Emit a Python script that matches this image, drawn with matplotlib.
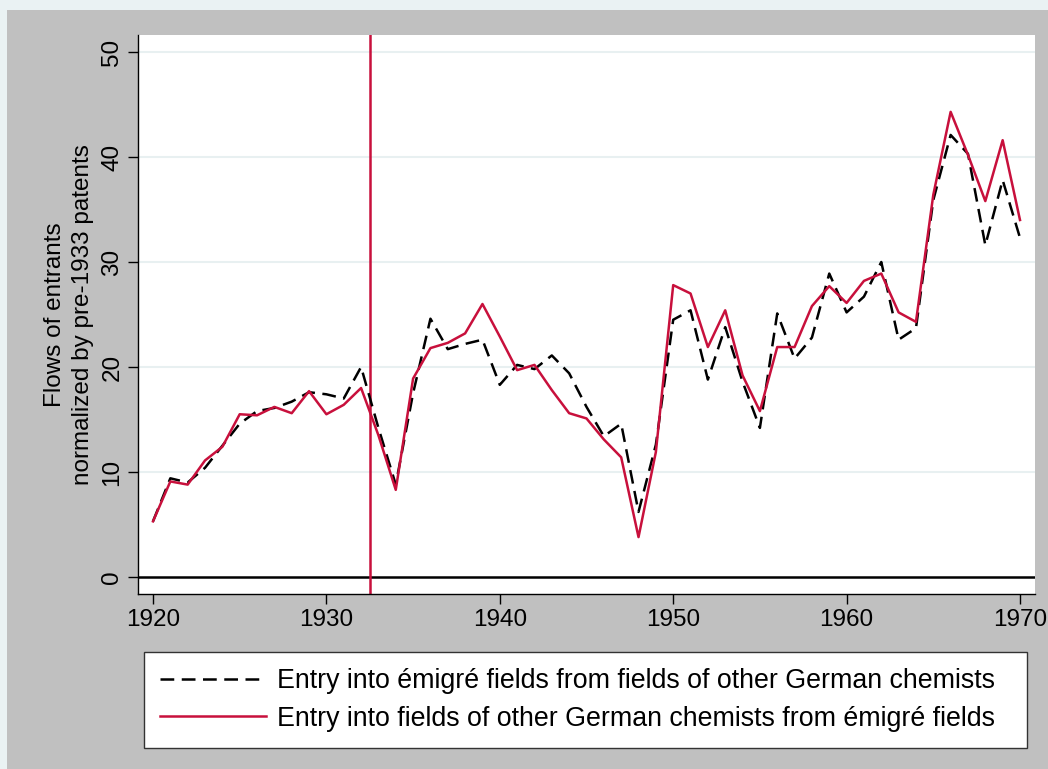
import matplotlib
matplotlib.use("Agg")
import matplotlib.pyplot as plt
from matplotlib.patches import Rectangle

years = list(range(1920, 1971))

# Entry into emigre fields from fields of other German chemists (dashed black)
emigre_entry = [
    5.3, 9.4, 9.0, 10.4, 12.5, 14.6, 15.8, 16.1, 16.7, 17.6,
    17.4, 17.0, 20.0, 14.2, 8.8, 17.5, 24.6, 21.7, 22.2, 22.6,
    18.3, 20.2, 19.8, 21.1, 19.4, 16.2, 13.4, 14.6, 6.2, 12.6,
    24.5, 25.4, 18.8, 23.8, 18.6, 14.2, 25.1, 20.8, 22.8, 28.9,
    25.2, 26.7, 30.0, 22.6, 23.7, 35.9, 42.1, 40.3, 31.6, 37.8,
    32.3,
]

# Entry into fields of other German chemists from emigre fields (solid red)
other_entry = [
    5.3, 9.1, 8.8, 11.1, 12.4, 15.5, 15.4, 16.2, 15.6, 17.7,
    15.5, 16.4, 18.0, 13.5, 8.3, 18.9, 21.8, 22.3, 23.2, 26.0,
    22.9, 19.7, 20.2, 17.8, 15.6, 15.1, 13.1, 11.4, 3.8, 11.9,
    27.8, 27.0, 21.9, 25.4, 19.2, 15.8, 21.9, 21.9, 25.8, 27.7,
    26.1, 28.2, 28.9, 25.2, 24.3, 36.4, 44.3, 40.2, 35.8, 41.6,
    34.0,
]

break_year = 1932.5
x_ticks = [1920, 1930, 1940, 1950, 1960, 1970]
y_ticks = [0, 10, 20, 30, 40, 50]

labels = [
    "Entry into émigré fields from fields of other German chemists",
    "Entry into fields of other German chemists from émigré fields",
]

RED = "#c8103c"
GRAY = "#c0c0c0"
GRID = "#e8f0f1"

plt.rcParams["font.family"] = ["Liberation Sans", "DejaVu Sans"]

fig = plt.figure(figsize=(10.48, 7.69), dpi=100)
fig.patch.set_facecolor("#eaf2f3")
fig.patches.append(Rectangle((7 / 1048, 0), 1, 1 - 10 / 769,
                             transform=fig.transFigure, facecolor=GRAY,
                             edgecolor="none", zorder=-5))

ax = fig.add_axes([138 / 1048, 1 - 594 / 769, 897 / 1048, 559 / 769])
ax.set_zorder(2)
ax.set_facecolor("white")

for yv in y_ticks[1:]:
    ax.axhline(yv, color=GRID, lw=1.5, zorder=1)
ax.axhline(0, color="black", lw=1.8, zorder=2)
ax.axvline(break_year, color=RED, lw=1.8, zorder=2)

ax.plot(years, emigre_entry, color="black", lw=1.8, dashes=(5.5, 3),
        zorder=3, label=labels[0])
ax.plot(years, other_entry, color=RED, lw=1.8, zorder=4, label=labels[1])

ax.set_xlim(1920 - 15 / 17.34, 1970 + 15 / 17.34)
ax.set_ylim(-17 / 10.5, 542 / 10.5)
ax.set_xticks(x_ticks)
ax.set_yticks(y_ticks)

for side in ["top", "right"]:
    ax.spines[side].set_visible(False)
for side in ["left", "bottom"]:
    ax.spines[side].set_linewidth(1.0)

ax.tick_params(axis="both", direction="out", length=7.5, width=1.0,
               labelsize=17.5, pad=3)
for lbl in ax.get_yticklabels():
    lbl.set_rotation(90)
    lbl.set_va("center")

ax.set_ylabel("Flows of entrants\nnormalized by pre-1933 patents",
              fontsize=17.5, linespacing=1.4, labelpad=5)

handles, _ = ax.get_legend_handles_labels()
leg = fig.legend(handles, labels,
                 loc="upper left",
                 bbox_to_anchor=(144 / 1048, 1 - 653 / 769, 883 / 1048, 0.001),
                 mode="expand", borderaxespad=0, fontsize=19.3,
                 handlelength=3.95, handletextpad=0.42, labelspacing=0.43,
                 borderpad=0.6, frameon=True, fancybox=False, framealpha=1)
leg.get_frame().set_edgecolor("#333333")
leg.get_frame().set_linewidth(1.0)

fig.savefig("out.png", dpi=100, facecolor=fig.get_facecolor())
